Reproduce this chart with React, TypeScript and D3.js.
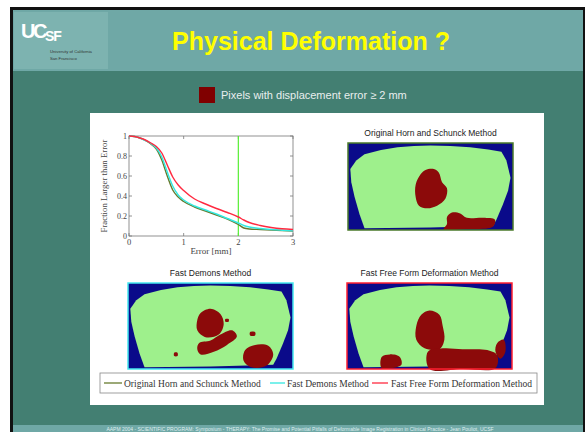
import React from "react";
import * as d3 from "d3";

const errorMm = [0, 0.1, 0.2, 0.3, 0.4, 0.5, 0.6, 0.7, 0.8, 0.9, 1.0, 1.2, 1.4, 1.6, 1.8, 2.0, 2.1, 2.2, 2.4, 2.6, 2.8, 3.0];
const hornSchunck = [1, 0.995, 0.98, 0.955, 0.92, 0.87, 0.76, 0.6, 0.46, 0.39, 0.345, 0.29, 0.25, 0.21, 0.17, 0.115, 0.08, 0.07, 0.065, 0.06, 0.055, 0.05];
const fastDemons = [1, 0.995, 0.98, 0.955, 0.925, 0.88, 0.79, 0.64, 0.5, 0.41, 0.36, 0.3, 0.26, 0.22, 0.175, 0.13, 0.105, 0.09, 0.075, 0.065, 0.058, 0.052];
const fastFFD = [1, 0.995, 0.98, 0.96, 0.93, 0.895, 0.83, 0.71, 0.59, 0.51, 0.455, 0.37, 0.32, 0.275, 0.235, 0.19, 0.16, 0.135, 0.105, 0.085, 0.072, 0.065];
const yTicks = [0, 0.2, 0.4, 0.6, 0.8, 1];
const xTicks = [0, 1, 2, 3];
const thresholdMm = 2;
const seriesNames = ["Original Horn and Schunck Method", "Fast Demons Method", "Fast Free Form Deformation Method"];
const seriesColors = ["#667a2e", "#33e8e0", "#ff2a40"];

type P = [number, number];
const liverShape: P[] = [
  [0.014, 0.3], [0.05, 0.2], [0.1, 0.13], [0.2, 0.08], [0.3, 0.05], [0.4, 0.035], [0.5, 0.03], [0.62, 0.035],
  [0.74, 0.05], [0.85, 0.075], [0.93, 0.1], [0.96, 0.2], [0.985, 0.4], [0.97, 0.55], [0.94, 0.7], [0.9, 0.88],
  [0.88, 0.95], [0.5, 0.97], [0.1, 0.98], [0.07, 0.82], [0.04, 0.62], [0.02, 0.45],
];
const hornBlobs: P[][] = [
  [[0.44, 0.36], [0.47, 0.31], [0.52, 0.3], [0.55, 0.34], [0.57, 0.45], [0.6, 0.52], [0.59, 0.64], [0.54, 0.72], [0.48, 0.75], [0.43, 0.72], [0.41, 0.62], [0.41, 0.48]],
  [[0.6, 0.85], [0.63, 0.8], [0.68, 0.81], [0.72, 0.86], [0.82, 0.86], [0.89, 0.88], [0.88, 0.96], [0.7, 0.99], [0.58, 0.99], [0.6, 0.93]],
];
const demonsBlobs: P[][] = [
  [[0.44, 0.35], [0.5, 0.3], [0.56, 0.36], [0.58, 0.48], [0.55, 0.6], [0.47, 0.63], [0.42, 0.55], [0.42, 0.43]],
  [[0.43, 0.7], [0.5, 0.67], [0.56, 0.6], [0.63, 0.55], [0.66, 0.62], [0.6, 0.72], [0.52, 0.8], [0.44, 0.83], [0.42, 0.77]],
  [[0.71, 0.78], [0.77, 0.72], [0.85, 0.73], [0.88, 0.83], [0.84, 0.96], [0.75, 0.98], [0.7, 0.9]],
  [[0.59, 0.42], [0.61, 0.42], [0.61, 0.45], [0.59, 0.45]],
  [[0.74, 0.57], [0.77, 0.57], [0.77, 0.61], [0.74, 0.61]],
  [[0.28, 0.81], [0.3, 0.81], [0.3, 0.85], [0.28, 0.85]],
];
const ffdBlobs: P[][] = [
  [[0.45, 0.37], [0.5, 0.32], [0.56, 0.37], [0.58, 0.5], [0.59, 0.66], [0.56, 0.77], [0.47, 0.76], [0.42, 0.66], [0.42, 0.5]],
  [[0.49, 0.8], [0.58, 0.76], [0.7, 0.77], [0.85, 0.78], [0.91, 0.84], [0.9, 0.99], [0.7, 1.0], [0.5, 1.0]],
  [[0.21, 0.86], [0.26, 0.83], [0.32, 0.86], [0.33, 0.95], [0.27, 0.99], [0.21, 0.99]],
  [[0.91, 0.7], [0.95, 0.66], [0.96, 0.8], [0.93, 0.88], [0.9, 0.8]],
];

const W = 585, H = 432;

function Panel({ x, y, w, h, title, border, blobs }: { x: number; y: number; w: number; h: number; title: string; border: string; blobs: P[][] }) {
  const sx = d3.scaleLinear().domain([0, 1]).range([x, x + w]);
  const sy = d3.scaleLinear().domain([0, 1]).range([y, y + h]);
  const closed = d3.line<P>().x((p) => sx(p[0])).y((p) => sy(p[1])).curve(d3.curveCatmullRomClosed.alpha(0.5));
  const poly = d3.line<P>().x((p) => sx(p[0])).y((p) => sy(p[1])).curve(d3.curveLinearClosed);
  return (
    <g>
      <text x={x + w / 2} y={y - 7} textAnchor="middle" fontFamily="Liberation Sans, Arial, sans-serif" fontSize={8.5} fill="#222">{title}</text>
      <rect x={x} y={y} width={w} height={h} fill="#0a0a8a" />
      <path d={poly(liverShape) || ""} fill="#9ef08c" />
      {blobs.map((b, i) => (
        <path key={i} d={closed(b) || ""} fill="#8c0a0a" />
      ))}
      <rect x={x} y={y} width={w} height={h} fill="none" stroke={border} strokeWidth={1.5} />
    </g>
  );
}

export default function App() {
  const px0 = 129, px1 = 293, py0 = 236, py1 = 136;
  const xs = d3.scaleLinear().domain([0, 3]).range([px0, px1]);
  const ys = d3.scaleLinear().domain([0, 1]).range([py0, py1]);
  const line = d3.line<number>().x((_, i) => xs(errorMm[i])).y((v) => ys(v)).curve(d3.curveMonotoneX);
  const series = [hornSchunck, fastDemons, fastFFD];
  const serif = "Liberation Serif, Times New Roman, serif";

  const legendItems = [
    { x: 104, w: 18, tx: 124 },
    { x: 270, w: 15, tx: 287 },
    { x: 372, w: 16, tx: 391 },
  ];

  return (
    <svg width={W} height={H} style={{ position: "absolute", left: 0, top: 0 }} xmlns="http://www.w3.org/2000/svg">
      <rect x={0} y={0} width={W} height={H} fill="#ffffff" />
      <rect x={10} y={7} width={W - 10} height={H - 7} fill="#111" />
      <rect x={13} y={10} width={570} height={H - 10} fill="#437f72" />
      <rect x={13} y={10} width={570} height={61} fill="#6fa8a6" />
      <rect x={13} y={425} width={570} height={7} fill="#6fa8a6" />
      <rect x={14} y={12} width={94} height={57} fill="#7db3b0" />
      <text x={21} y={38} fontFamily="Liberation Sans, Arial, sans-serif" fontWeight="bold" fontSize={20} fill="#ffffff" letterSpacing={-2.5}>UC</text>
      <text x={45} y={41} fontFamily="Liberation Sans, Arial, sans-serif" fontWeight="bold" fontSize={14} fill="#ffffff" letterSpacing={-1}>SF</text>
      <text x={50} y={53} fontFamily="Liberation Sans, Arial, sans-serif" fontSize={4.2} fill="#333">University of California</text>
      <text x={50} y={60} fontFamily="Liberation Sans, Arial, sans-serif" fontSize={4.2} fill="#333">San Francisco</text>
      <text x={311} y={50} textAnchor="middle" fontFamily="Liberation Sans, Arial, sans-serif" fontWeight="bold" fontSize={25} fill="#ffff00">Physical Deformation ?</text>

      <rect x={199} y={87} width={16} height={16} fill="#800000" />
      <text x={221} y={99} fontFamily="Liberation Sans, Arial, sans-serif" fontSize={11} fill="#e8eeee">Pixels with displacement error ≥ 2 mm</text>

      <rect x={90} y={113} width={454} height={292} fill="#ffffff" />

      {/* plot */}
      <rect x={px0} y={py1} width={px1 - px0} height={py0 - py1} fill="none" stroke="#777" strokeWidth={0.8} />
      {yTicks.map((t) => (
        <g key={"y" + t}>
          <line x1={px0} x2={px0 + 3} y1={ys(t)} y2={ys(t)} stroke="#777" strokeWidth={0.8} />
          <line x1={px1} x2={px1 - 3} y1={ys(t)} y2={ys(t)} stroke="#777" strokeWidth={0.8} />
          <text x={px0 - 2} y={ys(t) + 3} textAnchor="end" fontFamily={serif} fontSize={8} fill="#444">{t}</text>
        </g>
      ))}
      {xTicks.map((t) => (
        <g key={"x" + t}>
          <line x1={xs(t)} x2={xs(t)} y1={py0} y2={py0 - 3} stroke="#777" strokeWidth={0.8} />
          <line x1={xs(t)} x2={xs(t)} y1={py1} y2={py1 + 3} stroke="#777" strokeWidth={0.8} />
          <text x={xs(t)} y={py0 + 9} textAnchor="middle" fontFamily={serif} fontSize={8.5} fill="#444">{t}</text>
        </g>
      ))}
      <text x={xs(1.5)} y={py0 + 18} textAnchor="middle" fontFamily={serif} fontSize={9} fill="#444">Error [mm]</text>
      <text transform={`translate(107,${(py0 + py1) / 2}) rotate(-90)`} textAnchor="middle" fontFamily={serif} fontSize={8.8} fill="#444">Fraction Larger than Error</text>
      <line x1={xs(thresholdMm)} x2={xs(thresholdMm)} y1={py1} y2={py0} stroke="#55ee33" strokeWidth={1.2} />
      {series.map((s, i) => (
        <path key={i} d={line(s) || ""} fill="none" stroke={seriesColors[i]} strokeWidth={1.4} />
      ))}

      <Panel x={348} y={143} w={165} h={87} title="Original Horn and Schunck Method" border="#4a7a2a" blobs={hornBlobs} />
      <Panel x={128} y={283} w={165} h={86} title="Fast Demons Method" border="#44e8f0" blobs={demonsBlobs} />
      <Panel x={347} y={283} w={165} h={86} title="Fast Free Form Deformation Method" border="#ff2030" blobs={ffdBlobs} />

      {/* legend */}
      <rect x={100} y={373} width={437} height={20} fill="#ffffff" stroke="#888" strokeWidth={0.8} />
      {seriesNames.map((n, i) => (
        <g key={n}>
          <line x1={legendItems[i].x} x2={legendItems[i].x + legendItems[i].w} y1={383} y2={383} stroke={seriesColors[i]} strokeWidth={1.3} />
          <text x={legendItems[i].tx} y={386.5} fontFamily={serif} fontSize={9.5} fill="#333">{n}</text>
        </g>
      ))}

      <text x={300} y={431} textAnchor="middle" fontFamily="Liberation Sans, Arial, sans-serif" fontSize={5} fill="#dfeeee">AAPM 2004 - SCIENTIFIC PROGRAM: Symposium - THERAPY: The Promise and Potential Pitfalls of Deformable Image Registration in Clinical Practice - Jean Pouliot, UCSF</text>
    </svg>
  );
}
